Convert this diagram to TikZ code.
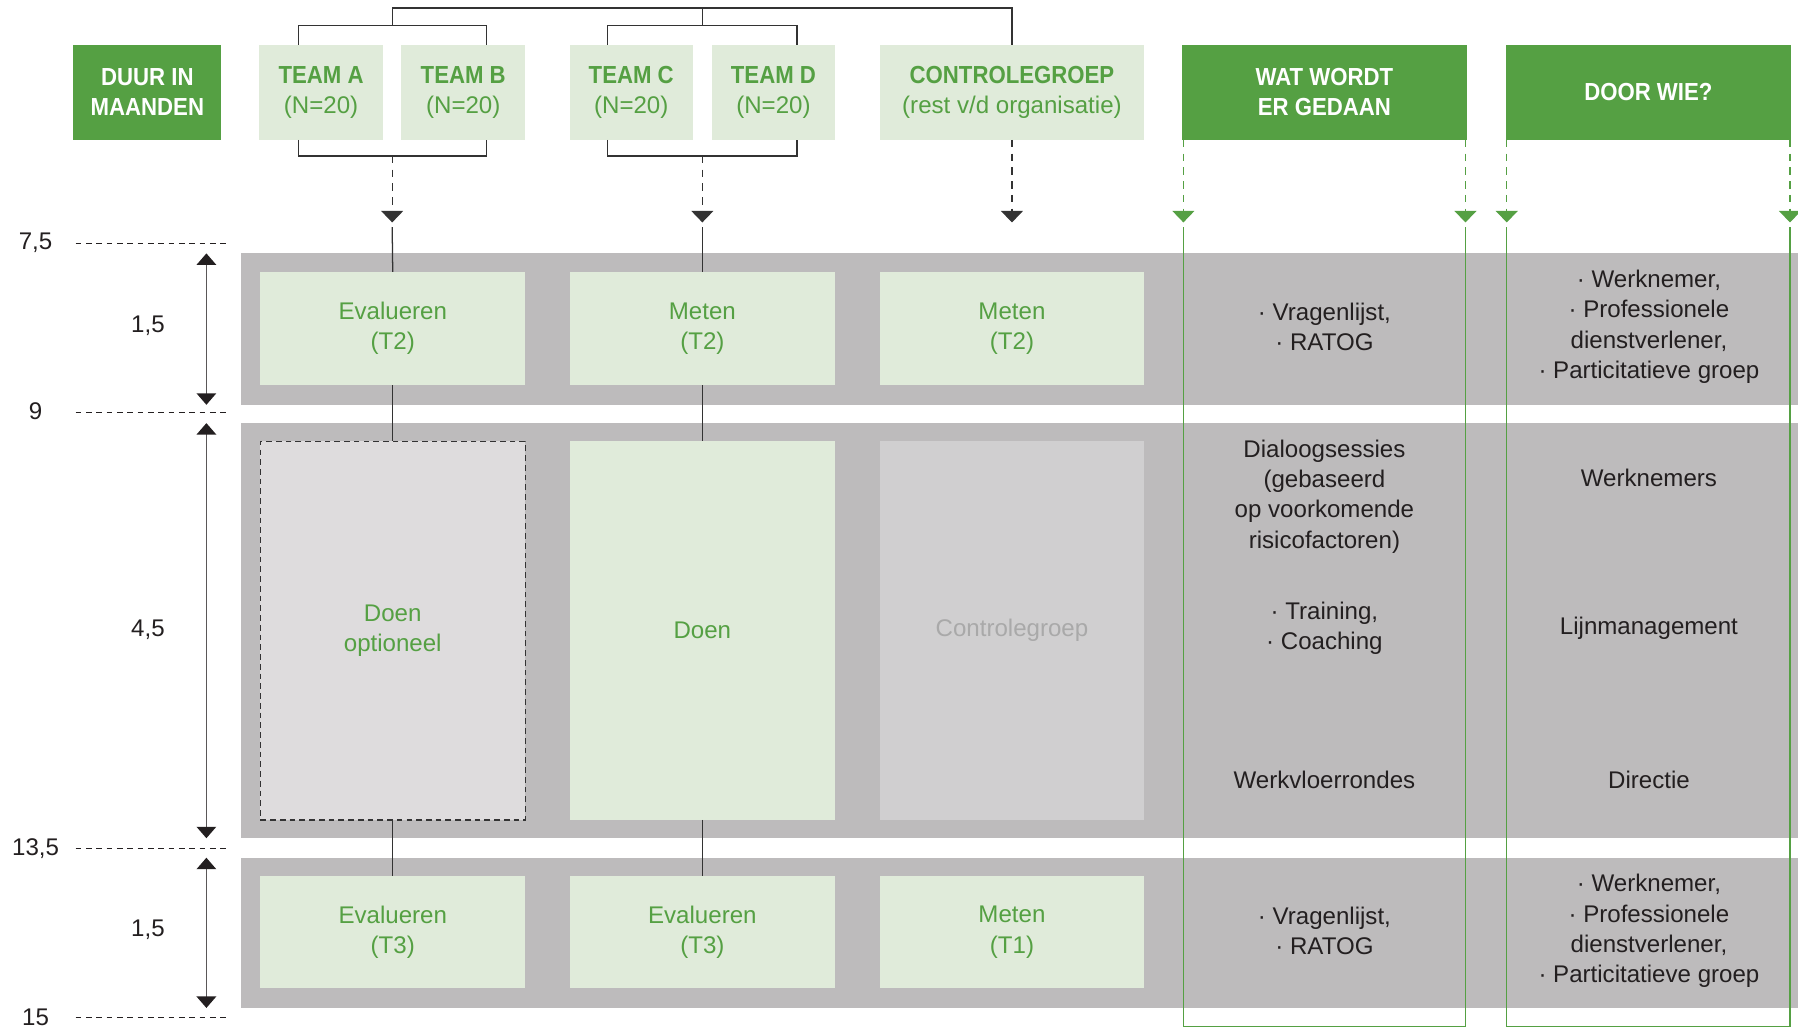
\documentclass[tikz,border=0pt]{standalone}
\usepackage{fontspec}
\setmainfont{Liberation Sans}
\newfontfamily\hdfont{Liberation Sans}[FakeStretch=0.9]
\usetikzlibrary{arrows.meta}
\definecolor{dkgreen}{HTML}{55A043}
\definecolor{ltgreen}{HTML}{E0EBDA}
\definecolor{txgreen}{HTML}{55A043}
\definecolor{bandgray}{HTML}{BDBBBC}
\definecolor{optgray}{HTML}{DEDCDD}
\definecolor{ctlgray}{HTML}{D0CFD0}
\definecolor{ctltext}{HTML}{A9A9A9}
\definecolor{ink}{HTML}{231F20}
\definecolor{linegray}{HTML}{333333}
\newcommand\hdtxt[1]{{\hdfont\bfseries\fontsize{21.5}{26.5}\selectfont #1}}
\begin{document}
\begin{tikzpicture}[x=1pt,y=-1pt,
  base/.style={inner sep=0pt, outer sep=0pt, anchor=north west, align=center,
    font=\fontsize{21}{26.5}\selectfont},
  hdr/.style={base, fill=dkgreen, text=white, minimum height=83pt},
  team/.style={base, fill=ltgreen, text=txgreen, minimum height=83pt},
  cellA/.style={base, fill=ltgreen, text=txgreen, minimum width=231pt},
  optcell/.style={base, fill=optgray, text=txgreen, minimum width=231pt,
    draw=linegray, line width=1.1pt, dash pattern=on 5pt off 3.5pt},
  ctlcell/.style={base, fill=ctlgray, text=ctltext, minimum width=231pt},
  txt/.style={base, anchor=center, text=ink},
  lbl/.style={base, anchor=center, text=ink},
  brk/.style={draw=linegray, line width=1.1pt},
  dsh/.style={draw=linegray, line width=1.1pt, dash pattern=on 6.5pt off 5.5pt},
  tipk/.style={-{Triangle[width=19pt,length=10pt]}},
  gdsh/.style={draw=dkgreen, line width=1.1pt, dash pattern=on 6.5pt off 5.5pt},
  gln/.style={draw=dkgreen, line width=1.2pt},
  lvl/.style={draw=ink, line width=0.9pt, dash pattern=on 5pt off 4pt},
  dur/.style={draw=ink!75, line width=1.4pt,
    {Triangle[width=17pt,length=10pt,color=ink]}-{Triangle[width=17pt,length=10pt,color=ink]}}
]
\useasboundingbox (0,0) rectangle (1568,896);

% gray bands
\fill[bandgray] (210,221) rectangle (1568,353);
\fill[bandgray] (210,369) rectangle (1568,731);
\fill[bandgray] (210,748) rectangle (1568,879);

% header row
\node[hdr, minimum width=129pt] (duur) at (64,39) {\hdtxt{DUUR IN}\\\hdtxt{MAANDEN}};
\node[team, minimum width=108pt] (ta) at (226,39) {\hdtxt{TEAM A}\\(N=20)};
\node[team, minimum width=108pt] (tb) at (350,39) {\hdtxt{TEAM B}\\(N=20)};
\node[team, minimum width=107pt] (tc) at (497,39) {\hdtxt{TEAM C}\\(N=20)};
\node[team, minimum width=107pt] (td) at (621,39) {\hdtxt{TEAM D}\\(N=20)};
\node[team, minimum width=231pt] (ctl) at (767,39) {\hdtxt{CONTROLEGROEP}\\(rest v/d organisatie)};
\node[hdr, minimum width=248pt] (wat) at (1031,39) {\hdtxt{WAT WORDT}\\\hdtxt{ER GEDAAN}};
\node[hdr, minimum width=249pt] (door) at (1313,39) {\hdtxt{DOOR WIE?}};

% cells
\node[cellA, minimum height=99pt] (a1) at (227,237) {Evalueren\\(T2)};
\node[cellA, minimum height=99pt] (c1) at (497,237) {Meten\\(T2)};
\node[cellA, minimum height=99pt] (k1) at (767,237) {Meten\\(T2)};
\node[optcell, minimum height=330pt] (a2) at (227,385) {Doen\\optioneel};
\node[cellA, minimum height=330pt] (c2) at (497,385) {Doen};
\node[ctlcell, minimum height=330pt] (k2) at (767,385) {Controlegroep};
\node[cellA, minimum height=98pt] (a3) at (227,764) {Evalueren\\(T3)};
\node[cellA, minimum height=98pt] (c3) at (497,764) {Evalueren\\(T3)};
\node[cellA, minimum height=98pt] (k3) at (767,764) {Meten\\(T1)};

% right column texts
\node[txt] (w1) at (1155,285) {· Vragenlijst,\\· RATOG};
\node[txt] (d1) at (1438,285) {· Werknemer,\\· Professionele\\dienstverlener,\\· Particitatieve groep};
\node[txt] (w2a) at (1155,433) {Dialoogsessies\\(gebaseerd\\op voorkomende\\risicofactoren)};
\node[txt] (w2b) at (1155,548) {· Training,\\· Coaching};
\node[txt] (w2c) at (1155,680) {Werkvloerrondes};
\node[txt] (d2a) at (1438,417) {Werknemers};
\node[txt] (d2b) at (1438,548) {Lijnmanagement};
\node[txt] (d2c) at (1438,680) {Directie};
\node[txt] (w3) at (1155,812) {· Vragenlijst,\\· RATOG};
\node[txt] (d3) at (1438,812) {· Werknemer,\\· Professionele\\dienstverlener,\\· Particitatieve groep};

% left scale
\node[lbl] (l75) at (31,212) {7,5};
\node[lbl] (l9) at (31,359) {9};
\node[lbl] (l135) at (31,740) {13,5};
\node[lbl] (l15) at (31,887) {15};
\draw[lvl] (66,212) -- (198,212);
\draw[lvl] (66,360) -- (198,360);
\draw[lvl] (66,740) -- (198,740);
\draw[lvl] (66,887) -- (198,887);
\node[lbl] (du1) at (129,284) {1,5};
\node[lbl] (du2) at (129,549) {4,5};
\node[lbl] (du3) at (129,811) {1,5};
\coordinate (s1t) at (180,221); \coordinate (s1b) at (180,353);
\coordinate (s2t) at (180,369); \coordinate (s2b) at (180,731);
\coordinate (s3t) at (180,748); \coordinate (s3b) at (180,879);
\draw[dur] (s1t) -- (s1b);
\draw[dur] (s2t) -- (s2b);
\draw[dur] (s3t) -- (s3b);

% brackets
\coordinate (ab) at (342,22);
\coordinate (cd) at (612.5,22);
\coordinate (topy) at (0,7);
\coordinate (abb) at (342,136);
\coordinate (cdb) at (612.5,136);
\draw[brk] ([xshift=34pt]ta.north west) |- (ab) -| ([xshift=-34pt]tb.north east);
\draw[brk] ([xshift=33pt]tc.north west) |- (cd) -| ([xshift=-33pt]td.north east);
\draw[brk] (ab) -- (ab |- topy) -| (ctl.north);
\draw[brk] (cd) -- (cd |- topy);
\draw[brk] ([xshift=34pt]ta.south west) |- (abb) -| ([xshift=-34pt]tb.south east);
\draw[brk] ([xshift=33pt]tc.south west) |- (cdb) -| ([xshift=-33pt]td.south east);

% arrows to bands
\coordinate (aarr) at (342,194);
\coordinate (carr) at (612.5,194);
\coordinate (karr) at (882.5,194);
\draw[dsh, tipk, color=linegray] (abb) -- (aarr);
\draw[dsh, tipk, color=linegray] (cdb) -- (carr);
\draw[dsh, tipk, color=linegray] (ctl.south) -- (karr);
\draw[brk] ([yshift=-4pt]aarr) -- (a1.north);
\draw[brk] ([yshift=-4pt]carr) -- (c1.north);
\draw[brk] (a1.south) -- (a2.north);
\draw[brk] (a2.south) -- (a3.north);
\draw[brk] (c1.south) -- (c2.north);
\draw[brk] (c2.south) -- (c3.north);

% green frames
\coordinate (wl) at (1032,194);
\coordinate (wr) at (1278,194);
\coordinate (dl) at (1314,194);
\coordinate (dr) at (1561,194);
\coordinate (bot) at (0,895);
\draw[gdsh, tipk, color=dkgreen] ([xshift=1pt]wat.south west) -- (wl);
\draw[gdsh, tipk, color=dkgreen] ([xshift=-1pt]wat.south east) -- (wr);
\draw[gdsh, tipk, color=dkgreen] ([xshift=1pt]door.south west) -- (dl);
\draw[gdsh, tipk, color=dkgreen] ([xshift=-1pt]door.south east) -- (dr);
\draw[gln] ([yshift=-4pt]wl) -- (wl |- bot) -- (wr |- bot) -- ([yshift=-4pt]wr);
\draw[gln] ([yshift=-4pt]dl) -- (dl |- bot) -- (dr |- bot) -- ([yshift=-4pt]dr);
\end{tikzpicture}
\end{document}
